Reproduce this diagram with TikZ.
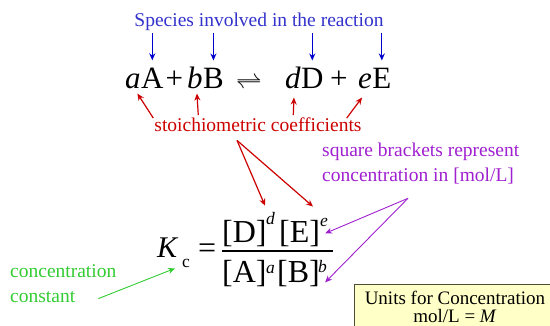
\documentclass[tikz,border=0pt]{standalone}
\usepackage{fontspec}
\setmainfont{Liberation Serif}
\usetikzlibrary{calc,arrows.meta}
\definecolor{spc}{HTML}{3333CC}
\definecolor{spa}{HTML}{0000CC}
\definecolor{sto}{HTML}{CC0000}
\definecolor{brk}{HTML}{A020D0}
\definecolor{kcg}{HTML}{33CC33}
\definecolor{unitfill}{HTML}{FFFFC8}
\definecolor{unitline}{HTML}{4D4D33}

\begin{document}
\begin{tikzpicture}[x=1pt,y=-1pt,
  every node/.style={inner sep=0pt},
  txt/.style={font=\fontsize{19.5}{20}\selectfont},
  big/.style={anchor=base west,font=\fontsize{31}{32}\selectfont},
  kc/.style={anchor=base west,font=\fontsize{32}{34}\selectfont},
  sup/.style={anchor=base west,font=\fontsize{17.5}{18}\selectfont\itshape},
  arr/.style={-{Stealth[length=7pt,width=6pt]},line width=1.2pt},
  thin/.style={line width=0.9pt}]
\useasboundingbox (0,0) rectangle (550,326);
% labels
\node[txt,anchor=base,text=spc] (species) at (259,27) {Species involved in the reaction};
\node[txt,anchor=base,text=sto] (stoich) at (258,132) {stoichiometric coefficients};
\node[txt,anchor=base west,text=brk] (brk1) at (322,157) {square brackets represent};
\node[txt,anchor=base west,text=brk] (brk2) at (322,182) {concentration in [mol/L]};
\node[txt,anchor=base west,text=kcg] (conc) at (10,278) {concentration};
\node[txt,anchor=base west,text=kcg] (cst) at (10,303) {constant};
% reaction
\node[big] (ca) at (125,89) {\itshape a};
\node[big] (spA) at (ca.base east) {A};
\node[big] (plus1) at (165.5,89) {+};
\node[big] (cb) at (187,89) {\itshape b};
\node[big] (spB) at (cb.base east) {B};
\node[big,xscale=1.05] (eqarr) at (236,89) {$\rightleftharpoons$};
\node[big] (cd) at (285,89) {\itshape d};
\node[big] (spD) at (cd.base east) {D};
\node[big] (plus2) at (330,89) {+};
\node[big] (ce) at (358,89) {\itshape e};
\node[big] (spE) at (ce.base east) {E};
% equilibrium constant
\node[kc,font=\fontsize{30}{32}\selectfont\itshape] (kK) at (157,258) {K};
\node[sup,font=\fontsize{17.5}{18}\selectfont] (ksub) at (182,268) {c};
\node[kc] (keq) at (198,259) {=};
\node[kc] (lD) at (222,243) {[D]};
\node[sup] (expd) at (266,225) {d};
\node[kc] (lE) at (279,243) {[E]};
\node[sup] (expe) at (320,227) {e};
\node[kc] (lA) at (222,283) {[A]};
\node[sup] (expa) at (266,274) {a};
\node[kc] (lB) at (277,283) {[B]};
\node[sup] (expb) at (318,273) {b};
\draw[line width=1.4pt] (222,251) -- (333,251);
% units
\draw[draw=unitline,fill=unitfill,line width=0.8pt] (354,284) rectangle (570,340);
\node[align=center,font=\fontsize{19}{18}\selectfont] (units) at (455,306.5)
  {Units for Concentration\\mol/L = \textit{M}};
% arrows
\foreach \s in {spA,spB,spD,spE}
  \draw[arr,spa] (species.south -| \s.north) ++(0,2) -- ([yshift=8pt]\s.north);
\draw[arr,sto] ($(stoich.north west)+(-1,0)$) -- ($(ca.south east)+(-3.5,4)$);
\draw[arr,sto] ($(stoich.north west)+(44,-3)$) -- ($(cb.south)+(2,4)$);
\draw[arr,sto] ($(stoich.north west)+(139,-3)$) -- ($(cd.south)+(1,8)$);
\draw[arr,sto] ($(stoich.north east)+(-15,0)$) -- ($(ce.south)+(-3,8)$);
\draw[arr,sto] ($(stoich.south)+(-21,8)$) coordinate (fork) -- ($(expd.north west)+(-1,-7)$);
\draw[arr,sto] (fork) -- ($(expe.north west)+(-7,-12)$);
\draw[arr,thin,brk] ($(brk2.south west)+(86,13.5)$) coordinate (bfork) -- ($(expe.south east)+(-3,6)$);
\draw[arr,thin,brk] (bfork) -- ($(expb.south east)+(-2,9)$);
\draw[arr,thin,kcg] ($(cst.east)+(23,1)$) -- ($(ksub.south west)+(-7,0)$);
\end{tikzpicture}
\end{document}
